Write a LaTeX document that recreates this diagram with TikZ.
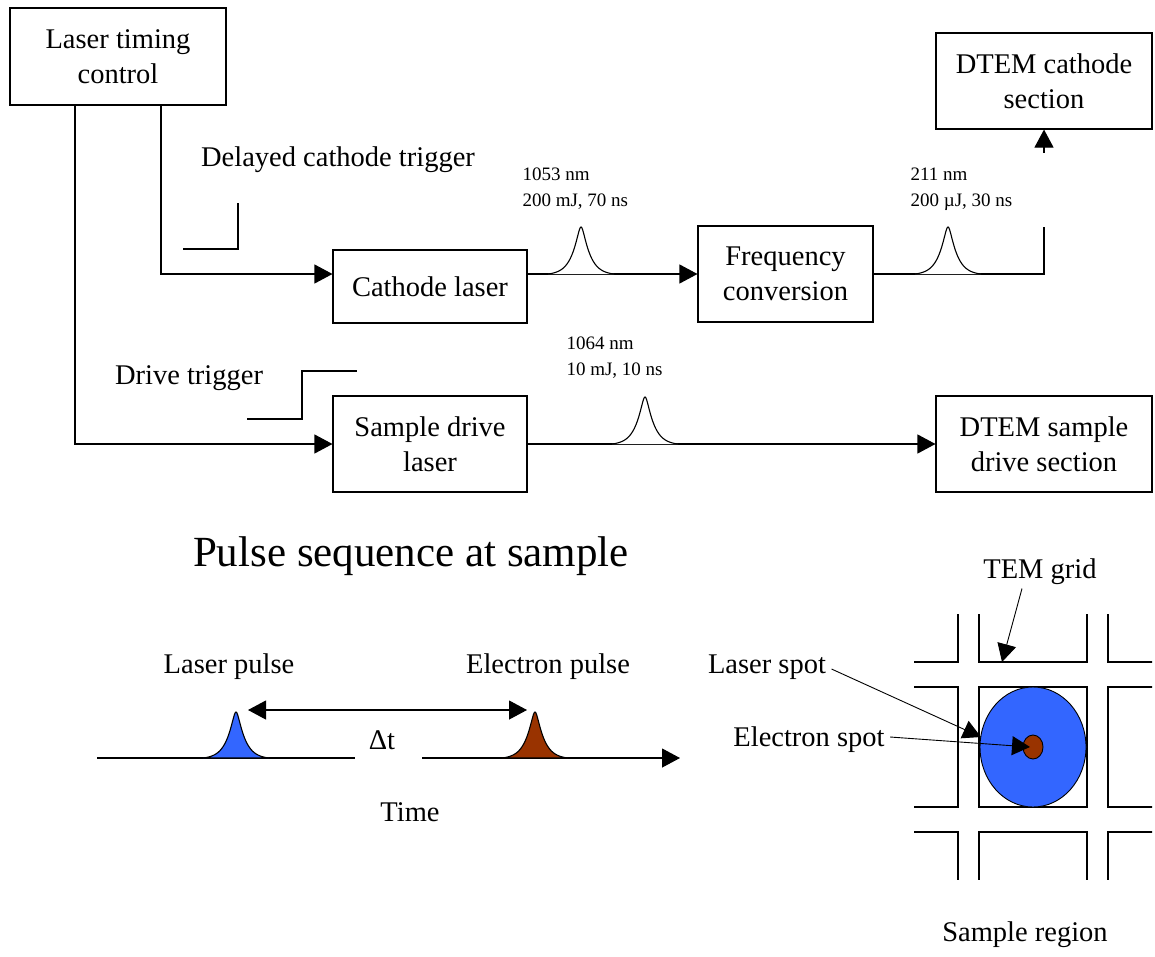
\documentclass[tikz,border=0pt]{standalone}
\usepackage{fontspec}
\setmainfont{Liberation Serif}
\usetikzlibrary{arrows.meta,calc}
\definecolor{laserblue}{HTML}{3366FF}
\definecolor{electronbrown}{HTML}{993300}
% pulse: peak x, base y, height, half width of the foot
\newcommand{\pulse}[4]{plot[domain=-#4:#4,samples=91,smooth] ({#1+\x},{#2-#3*(exp(-(sqrt(6.25+\x*\x)-2.5)/8)-exp(-(sqrt(6.25+#4*#4)-2.5)/8))/(1-exp(-(sqrt(6.25+#4*#4)-2.5)/8))})}

\begin{document}
\begin{tikzpicture}[x=1pt, y=-1pt, line width=1.1pt,
    box/.style={draw, rectangle, inner sep=0pt, align=center, font=\fontsize{28.5}{35}\selectfont},
    lbl/.style={inner sep=1pt, align=center, font=\fontsize{28.5}{35}\selectfont},
    small/.style={inner sep=0pt, align=left, anchor=west, font=\fontsize{19}{26}\selectfont},
    arr/.style={-{Triangle[length=18pt,width=19pt]}}]
    \useasboundingbox (0,0) rectangle (1155,956);

    % Boxes
    \node[box, minimum width=216pt, minimum height=97pt] (ltc) at (118,56.5) {Laser timing\\control};
    \node[box, minimum width=216pt, minimum height=96pt] (dtemc) at (1044,81) {DTEM cathode\\section};
    \node[box, minimum width=194pt, minimum height=73pt] (cathode) at (430,286.5) {Cathode laser};
    \node[box, minimum width=175pt, minimum height=96pt] (freq) at (785.5,274) {Frequency\\conversion};
    \node[box, minimum width=194pt, minimum height=96pt] (drive) at (430,444) {Sample drive\\laser};
    \node[box, minimum width=216pt, minimum height=96pt] (dtems) at (1044,444) {DTEM sample\\drive section};

    % Triggers
    \coordinate (trigd) at (75,105);
    \coordinate (trigc) at (161,105);
    \draw[arr] (trigc) |- (cathode.west |- freq.west);
    \draw[arr] (trigd) |- (drive.west);
    \node[lbl] (ctrig) at (338,160) {Delayed cathode trigger};
    \node[lbl] (dtrig) at (189,378) {Drive trigger};
    \draw (183,249) -- (238,249) -- (238,203);
    \draw (247,419) -- (302,419) -- (302,371) -- (357,371);

    % Cathode chain
    \draw[arr] (cathode.east |- freq.west) -- (freq.west);
    \draw[fill=white] \pulse{581}{274}{47}{33};
    \node[small] (ir) at (522,189) {1053 nm\\200 mJ, 70 ns};
    \coordinate (uvtop) at (1044,227);
    \draw (freq.east) -| (uvtop);
    \draw[fill=white] \pulse{948}{274}{47}{33};
    \node[small] (uv) at (910,189) {211 nm\\200 \textmu J, 30 ns};
    \draw[arr] ($(dtemc.south)+(0,23)$) -- (dtemc.south);

    % Drive chain
    \draw[arr] (drive.east) -- (dtems.west);
    \draw[fill=white] \pulse{645}{444}{47}{33};
    \node[small] (drv) at (566,358) {1064 nm\\10 mJ, 10 ns};

    % Pulse sequence
    \node[lbl, font=\fontsize{43}{50}\selectfont] (title) at (411,556) {Pulse sequence at sample};
    \node[lbl] (lp) at (229,667) {Laser pulse};
    \node[lbl] (ep) at (548,667) {Electron pulse};
    \coordinate (t0) at (97,758);
    \coordinate (t1) at (355,758);
    \coordinate (t2) at (422,758);
    \coordinate (t3) at (680,758);
    \draw (t0) -- (t1);
    \draw[arr] (t2) -- (t3);
    \filldraw[fill=laserblue] \pulse{236}{758}{46}{33} -- cycle;
    \filldraw[fill=electronbrown] \pulse{535}{758}{46}{33} -- cycle;
    \coordinate (lpeak) at (248,710);
    \coordinate (epeak) at (527,710);
    \draw[{Triangle[length=18pt,width=19pt]}-{Triangle[length=18pt,width=19pt]}] (lpeak) -- (epeak);
    \node[lbl] (dt) at (382,740) {Δt};
    \node[lbl] (time) at (410,812) {Time};

    % Sample region
    \begin{scope}
        \clip (914,614) rectangle (1152,879);
        \foreach \gx in {850,979,1108}
            \foreach \gy in {542,687,832}
                \draw (\gx,\gy) rectangle (\gx+108,\gy+120);
    \end{scope}
    \filldraw[fill=laserblue, line width=0.9pt] (1033,747) ellipse [x radius=53, y radius=60];
    \filldraw[fill=electronbrown, line width=0.9pt] (1033,747) ellipse [x radius=10, y radius=12];
    \node[lbl] (grid) at (1040,572) {TEM grid};
    \node[lbl] (lspot) at (767,667) {Laser spot};
    \node[lbl] (espot) at (809,740) {Electron spot};
    \node[lbl] (region) at (1025,935) {Sample region};
    \coordinate (gridedge) at (1002,662);
    \coordinate (lspotend) at (981,737);
    \coordinate (espotend) at (1030,747);
    \draw[arr, line width=0.9pt] ($(grid.south)+(-18,2)$) -- (gridedge);
    \draw[arr, line width=0.9pt] (lspot.east) ++(4,2) -- (lspotend);
    \draw[arr, line width=0.9pt] (espot.east) ++(4,-3) -- (espotend);

\end{tikzpicture}
\end{document}
